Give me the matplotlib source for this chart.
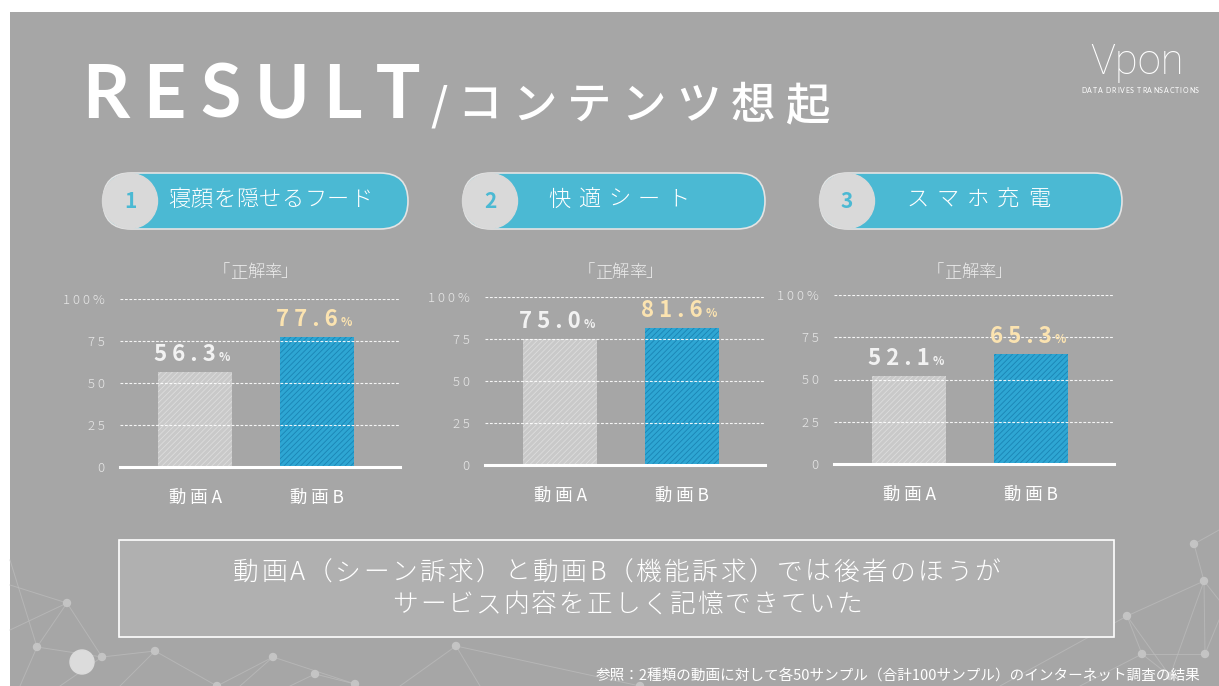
import matplotlib.pyplot as plt
from matplotlib.patches import Rectangle, FancyBboxPatch, Circle

plt.rcParams['font.family'] = ['Noto Sans CJK JP', 'DejaVu Sans']
plt.rcParams['hatch.linewidth'] = 0.6

# -----------------------------
# Data
# -----------------------------
panel_titles = ["寝顔を隠せるフード", "快適シート", "スマホ充電"]
categories = ["動 画 A", "動 画 B"]
rate_a = [56.3, 75.0, 52.1]   # 動画A（シーン訴求）
rate_b = [77.6, 81.6, 65.3]   # 動画B（機能訴求）
yticks = [0, 25, 50, 75, 100]
ytick_labels = ["0", "2 5", "5 0", "7 5", "1 0 0 %"]

# -----------------------------
# Layout (pixels)
# -----------------------------
W, H = 1219, 686
BG = "#a6a6a6"
CYAN = "#4bb9d3"
# grid left, grid right, y of 0, y of 100, pill left, pill right, pill text span
layout = [
    (120, 400, 467, 299, 103, 408, (168, 372)),
    (485, 765, 465, 297, 463, 765, (548, 690)),
    (834, 1114, 464, 295, 820, 1122, (906, 1050)),
]

fig = plt.figure(figsize=(W / 100, H / 100), dpi=100)
fig.patch.set_facecolor("white")

bg = fig.add_axes([0, 0, 1, 1])
bg.set_xlim(0, W)
bg.set_ylim(H, 0)
bg.axis("off")
bg.add_patch(Rectangle((10, 12), W - 10, H - 12, facecolor=BG, edgecolor="none", zorder=0))

renderer = fig.canvas.get_renderer()


def spread_text(x0, x1, y, s, **kw):
    """Draw s letter by letter so that it fills x0..x1 (pixels)."""
    widths = []
    for ch in s:
        t = bg.text(0, 0, ch, **kw)
        widths.append(t.get_window_extent(renderer).width)
        t.remove()
    gap = (x1 - x0 - sum(widths)) / max(len(s) - 1, 1)
    cur = x0
    for ch, w in zip(s, widths):
        bg.text(cur, y, ch, ha="left", **kw)
        cur += w + gap


# -----------------------------
# Decorative network (bottom)
# -----------------------------
net_col = "#bdbdbd"
nodes = {
    "a": (67, 603), "b": (37, 647), "c": (102, 657), "d": (155, 651),
    "e": (273, 657), "f": (315, 674), "g": (355, 684), "h": (217, 686),
    "i": (456, 646), "j": (1194, 544), "k": (1204, 581), "l": (1127, 616),
    "m": (1142, 654), "n": (1205, 654), "o": (1170, 676), "p": (640, 686),
}
edges = [
    ((10, 585), "a"), ((10, 630), "a"), ((10, 560), "b"), ("a", "b"), ("a", "c"),
    ("b", "c"), ("c", "d"), ("b", (20, 686)), ("c", (60, 686)), ("d", "h"),
    ("d", (120, 686)), ("e", "h"), ("e", (240, 686)), ("e", "g"), ("f", "g"),
    ("f", (290, 686)), ("i", (400, 686)), ("i", (480, 686)), ("i", "p"),
    ("j", "k"), ("j", (1219, 530)), ("k", "l"), ("k", "n"), ("k", "o"),
    ("l", "m"), ("l", "o"), ("m", "n"), ("m", (1080, 686)), ("n", (1219, 620)),
    ("m", "o"), ("k", (1219, 600)), ("l", (1000, 686)),
]
for p, q in edges:
    p = nodes[p] if isinstance(p, str) else p
    q = nodes[q] if isinstance(q, str) else q
    bg.plot([p[0], q[0]], [p[1], q[1]], color=net_col, lw=0.7, alpha=0.7, zorder=1)
for x, y in nodes.values():
    bg.add_patch(Circle((x, y), 3.5, color="#c4c4c4", zorder=2))
bg.add_patch(Circle((82, 662), 12, color="#dcdcdc", zorder=2))

# -----------------------------
# Title and logo
# -----------------------------
spread_text(82, 420, 118, "RESULT", color="white", fontsize=53, fontweight="bold",
            family=["Lato", "DejaVu Sans"], va="baseline")
spread_text(430, 830, 119, "/コンテンツ想起", color="white", fontsize=32,
            fontweight="medium", va="baseline")
bg.text(1137, 74, "Vpon", color="white", fontsize=30, fontweight="light",
        family=["Roboto", "DejaVu Sans"], va="baseline", ha="center")
spread_text(1081, 1199, 93, "DATA DRIVES TRANSACTIONS", color="white", fontsize=5,
            family=["Lato", "DejaVu Sans"], va="baseline")

# -----------------------------
# Panels
# -----------------------------
for i, (gx0, gx1, y0, y100, px0, px1, tspan) in enumerate(layout):
    # pill header
    bg.add_patch(FancyBboxPatch((px0, 173), px1 - px0, 56,
                                boxstyle="round,pad=0,rounding_size=28",
                                facecolor=CYAN, edgecolor="#e4e4e4", lw=1.2, zorder=3))
    bg.add_patch(Circle((px0 + 27, 201), 27.5, color="#d9d9d9", zorder=4))
    bg.text(px0 + 27, 202, str(i + 1), color=CYAN, fontsize=15, fontweight="bold",
            ha="center", va="center", zorder=5)
    spread_text(tspan[0], tspan[1], 200, panel_titles[i], color="white", fontsize=16,
                fontweight="light", va="center", zorder=5)
    spread_text(gx0 + 93, gx0 + 178, 272, "「正解率」", color="#ececec", fontsize=12.5,
                fontweight="light", va="center")

    ax = fig.add_axes([gx0 / W, 1 - y0 / H, (gx1 - gx0) / W, (y0 - y100) / H])
    ax.set_facecolor("none")
    ax.set_xlim(-0.615, 1.68)
    ax.set_ylim(0, 100)
    for s in ax.spines.values():
        s.set_visible(False)

    vals = [rate_a[i], rate_b[i]]
    ax.bar([0], [vals[0]], width=0.607, color="#c9c9c9", edgecolor="#dddddd",
           hatch="//////", linewidth=0, zorder=2)
    ax.bar([1], [vals[1]], width=0.607, color="#2ea6d3", edgecolor="#1a84b4",
           hatch="//////", linewidth=0, zorder=2)

    for yv in yticks[1:]:
        ax.axhline(yv, color="white", lw=0.8, ls=(0, (2.5, 1.5)), alpha=0.9, zorder=3)
    ax.axhline(0, color="white", lw=2.2, zorder=4, clip_on=False)

    ax.set_yticks(yticks)
    ax.set_yticklabels(ytick_labels, color="#e6e6e6", fontsize=9.5, fontweight="light")
    ax.set_xticks([0, 1])
    ax.set_xticklabels(categories, color="white", fontsize=12.5)
    ax.tick_params(axis="y", length=0, pad=11)
    ax.tick_params(axis="x", length=0, pad=16)

    for j, v in enumerate(vals):
        col = "#f2f2f2" if j == 0 else "#fbe3b0"
        ax.annotate(" ".join(f"{v:.1f}"), xy=(j, v), xytext=(15, 8),
                    textcoords="offset points", ha="right", va="baseline",
                    fontsize=16, fontweight="bold", color=col, zorder=5,
                    annotation_clip=False)
        ax.annotate("%", xy=(j, v), xytext=(17, 8), textcoords="offset points",
                    ha="left", va="baseline", fontsize=8.5, fontweight="bold",
                    color=col, zorder=5, annotation_clip=False)

# -----------------------------
# Conclusion box and footnote
# -----------------------------
bg.add_patch(Rectangle((119, 540), 995, 97, facecolor="#b0b0b0", edgecolor="white",
                       lw=1.2, zorder=3))
spread_text(233, 1000, 573, "動画A（シーン訴求）と動画B（機能訴求）では後者のほうが",
            color="white", fontsize=18.5, fontweight="light", va="center", zorder=4)
spread_text(392, 862, 605, "サービス内容を正しく記憶できていた",
            color="white", fontsize=18.5, fontweight="light", va="center", zorder=4)
bg.text(1200, 677, "参照：2種類の動画に対して各50サンプル（合計100サンプル）のインターネット調査の結果",
        color="white", fontsize=10.5, ha="right", va="center", zorder=4)

fig.savefig("out.png", dpi=100)
